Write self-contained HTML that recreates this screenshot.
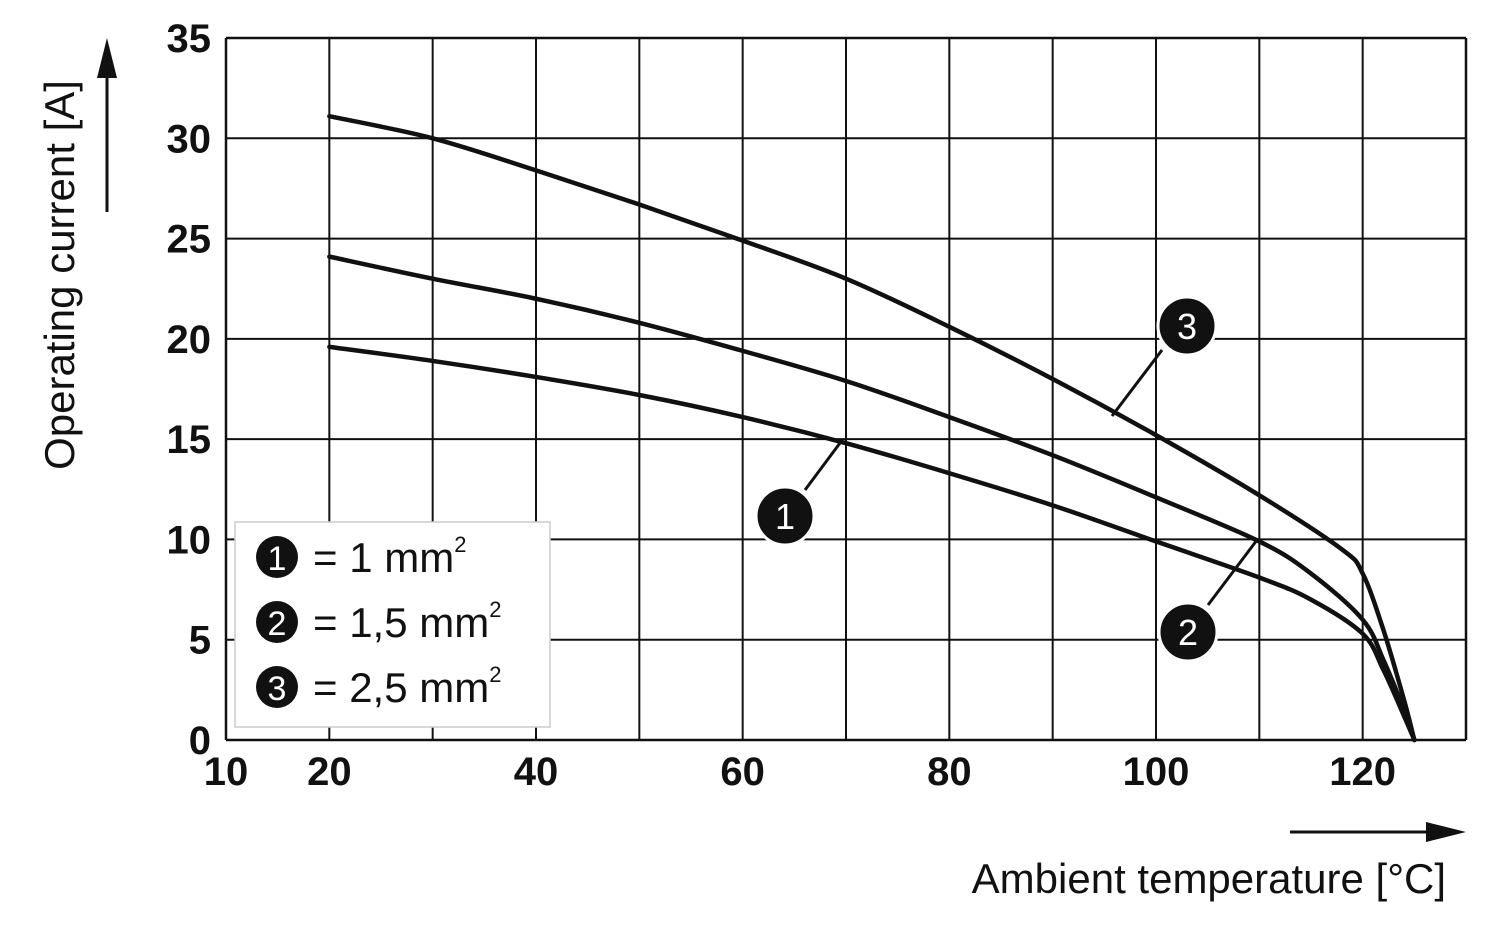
<!DOCTYPE html>
<html><head><meta charset="utf-8"><style>
html,body{margin:0;padding:0;background:#fff;}
svg{display:block;font-family:"Liberation Sans",Arial,sans-serif;}
</style></head><body>
<svg id="chart" width="1500" height="937" viewBox="0 0 1500 937">
<g id="grid"></g>
<g id="curves"></g>
<g id="ticks"></g>
<g>
<text x="74" y="275" font-size="42" text-anchor="middle" transform="rotate(-90 74 275)" fill="#111">Operating current [A]</text>
<line x1="107" y1="212" x2="107" y2="70" stroke="#111" stroke-width="3"/>
<polygon points="107,38 97,78 117,78" fill="#111"/>
</g>
<g>
<text x="1446" y="893" font-size="42" text-anchor="end" fill="#111">Ambient temperature [°C]</text>
<line x1="1290" y1="832" x2="1432" y2="832" stroke="#111" stroke-width="3"/>
<polygon points="1466,832 1426,822 1426,842" fill="#111"/>
</g>
<g>
<rect x="235" y="522" width="315" height="205" fill="#fff" stroke="#ccc" stroke-width="1.5"/>
<g><circle cx="277" cy="557" r="21" fill="#111"/><text x="277" y="570" font-size="34" fill="#fff" text-anchor="middle">1</text><text x="313" y="572" font-size="42" fill="#111">= 1 mm<tspan font-size="22" dy="-20">2</tspan></text></g>
<g><circle cx="277" cy="622" r="21" fill="#111"/><text x="277" y="635" font-size="34" fill="#fff" text-anchor="middle">2</text><text x="313" y="637" font-size="42" fill="#111">= 1,5 mm<tspan font-size="22" dy="-20">2</tspan></text></g>
<g><circle cx="277" cy="687" r="21" fill="#111"/><text x="277" y="700" font-size="34" fill="#fff" text-anchor="middle">3</text><text x="313" y="702" font-size="42" fill="#111">= 2,5 mm<tspan font-size="22" dy="-20">2</tspan></text></g>
</g>
<g><line x1="1112" y1="416" x2="1162" y2="350" stroke="#111" stroke-width="3"/><circle cx="1187" cy="326" r="29" fill="#111" stroke="#fff" stroke-width="3"/><text x="1187" y="339" font-size="36" fill="#fff" text-anchor="middle">3</text></g>
<g><line x1="840" y1="443" x2="805" y2="490" stroke="#111" stroke-width="3"/><circle cx="785" cy="516" r="29" fill="#111" stroke="#fff" stroke-width="3"/><text x="785" y="529" font-size="36" fill="#fff" text-anchor="middle">1</text></g>
<g><line x1="1257" y1="540" x2="1208" y2="605" stroke="#111" stroke-width="3"/><circle cx="1188" cy="632" r="29" fill="#111" stroke="#fff" stroke-width="3"/><text x="1188" y="645" font-size="36" fill="#fff" text-anchor="middle">2</text></g>
</svg>
<script>
const xTicks=[20,40,60,80,100,120];
const yTicks=[0,5,10,15,20,25,30,35];
const temps1=[20,30,40,50,60,70,80,90,100,110,115,120,122,124,125];
const curve1=[19.6,18.9,18.1,17.2,16.1,14.8,13.3,11.7,9.9,8.1,7,5.3,3.5,1.2,0];
const temps2=[20,30,40,50,60,70,80,90,100,110,115,120,122,124,125];
const curve2=[24.1,23,22,20.8,19.4,17.9,16.1,14.2,12.1,9.9,8.3,6,4,1.5,0];
const temps3=[20,30,40,50,60,70,80,90,100,110,118,120,122,124,125];
const curve3=[31.1,30,28.4,26.7,24.9,23,20.6,18,15.2,12.2,9.5,8.3,5.5,2,0];
const X0=226,X1=1466,Y0=740,Y1=38;
function xs(v){return X0+(v-10)/120*(X1-X0);}
function ys(v){return Y0-v/35*(Y0-Y1);}
const NS="http://www.w3.org/2000/svg";
function mk(tag,attrs,parent){const e=document.createElementNS(NS,tag);for(const k in attrs)e.setAttribute(k,attrs[k]);parent.appendChild(e);return e;}
const grid=document.getElementById('grid');
for(let t=10;t<=130;t+=10){
 const l=mk('line',{x1:xs(t),x2:xs(t),y1:Y1,y2:Y0,stroke:'#111','stroke-width':(t==10||t==130)?2.5:2},grid);
 
 
}
for(let v=0;v<=35;v+=5){
 const l=mk('line',{x1:X0,x2:X1,y1:ys(v),y2:ys(v),stroke:'#111','stroke-width':(v==0||v==35)?2.5:2},grid);
 
 
}
const ticks=document.getElementById('ticks');
yTicks.forEach(v=>{
 const t=mk('text',{x:211,y:ys(v)+14,'font-size':40,'font-weight':'bold','text-anchor':'end',fill:'#111'},ticks);
 t.textContent=v;
 
 
});
[10].concat(xTicks).forEach(v=>{
 const t=mk('text',{x:xs(v),y:785,'font-size':40,'font-weight':'bold','text-anchor':'middle',fill:'#111'},ticks);
 t.textContent=v;
 
 
});
function path(tx,vy){
 const p=tx.map((t,i)=>[xs(t),ys(vy[i])]);
 let d='M'+p[0][0]+','+p[0][1];
 for(let i=0;i<p.length-1;i++){
  const p0=p[Math.max(0,i-1)],p1=p[i],p2=p[i+1],p3=p[Math.min(p.length-1,i+2)];
  const c1=[p1[0]+(p2[0]-p0[0])/6,p1[1]+(p2[1]-p0[1])/6];
  const c2=[p2[0]-(p3[0]-p1[0])/6,p2[1]-(p3[1]-p1[1])/6];
  d+=' C'+c1+' '+c2+' '+p2;
 }
 return d;
}
const cg=document.getElementById('curves');
[[temps1,curve1,'curve-1mm2'],[temps2,curve2,'curve-1-5mm2'],[temps3,curve3,'curve-2-5mm2']].forEach(c=>{
 const p=mk('path',{d:path(c[0],c[1]),fill:'none',stroke:'#111','stroke-width':4.5,'stroke-linejoin':'round','stroke-linecap':'round'},cg);
 
 
});
</script>
</body></html>
